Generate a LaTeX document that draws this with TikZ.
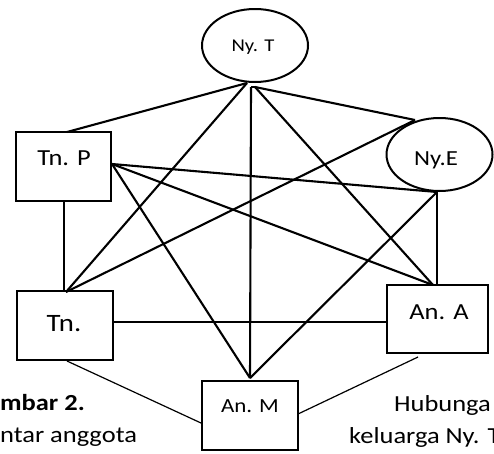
\documentclass[tikz,border=0pt]{standalone}
\usepackage{fontspec}
\setmainfont[FakeStretch=1.15]{Carlito}
\usetikzlibrary{shapes.geometric}
\begin{document}
\begin{tikzpicture}[x=1pt,y=-1pt,
  box/.style={draw=black,line width=2.3pt,rectangle,inner sep=0pt},
  oval/.style={draw=black,line width=2pt,ellipse,inner sep=0pt,minimum width=106pt,minimum height=73pt},
  lbl/.style={anchor=base,inner sep=0pt},
  thickline/.style={line width=2.1pt},
  thinline/.style={line width=1.2pt},
  midline/.style={line width=1.6pt}]
\useasboundingbox (0,0) rectangle (494,453);
\clip (0,0) rectangle (494,453);
\fill[white] (0,0) rectangle (494,453);
% shapes
\node[oval] (NyT) at (255,45.5) {};
\node[oval] (NyE) at (439.5,154.5) {};
\node[box,minimum width=95pt,minimum height=69pt] (TnP) at (63.5,166.5) {};
\node[box,minimum width=96pt,minimum height=69pt] (Tn) at (65,325.5) {};
\node[box,minimum width=101pt,minimum height=68pt] (AnA) at (437.5,319) {};
\node[box,minimum width=96pt,minimum height=69pt] (AnM) at (250,415.5) {};
% labels
\node[lbl,font=\fontsize{18}{22}\selectfont] (tNyT) at (253,51) {Ny. T};
\node[lbl,font=\fontsize{21.5}{26}\selectfont] (tNyE) at (436,165) {Ny.E};
\node[lbl,font=\fontsize{23}{28}\selectfont] (tTnP) at (64,165.7) {Tn. P};
\node[lbl,font=\fontsize{25}{30}\selectfont] (tTn) at (64,331) {Tn.};
\node[lbl,font=\fontsize{23}{28}\selectfont] (tAnA) at (439,319) {An. A};
\node[lbl,font=\fontsize{20}{24}\selectfont] (tAnM) at (250,412) {An. M};
% connection points
\coordinate (T1) at (247,83);
\coordinate (T2) at (251,87);
\coordinate (T3) at (255,87);
\coordinate (E1) at (415,120);
\coordinate (E2) at (437,192);
\coordinate (P1) at (67,132);
\coordinate (P2) at (112,164);
\coordinate (P3) at (64,201);
\coordinate (N1) at (66,292);
\coordinate (N2) at (64,292);
\coordinate (N3) at (113,322);
\coordinate (N4) at (67,361);
\coordinate (A1) at (433,285);
\coordinate (A2) at (437,285);
\coordinate (A3) at (387,322);
\coordinate (A4) at (418,357);
\coordinate (M1) at (250,378);
\coordinate (M2) at (201,423);
\coordinate (M3) at (298,414);
% thick connectors
\draw[thickline] (T1) -- (P1);
\draw[thickline] (T1) -- (N1);
\draw[thickline] (T2) -- (M1);
\draw[thickline] (T2) -- (T3);
\draw[thickline] (T3) -- (E1);
\draw[thickline] (T3) -- (A1);
\draw[thickline] (P2) -- (E2);
\draw[thickline] (P2) -- (A1);
\draw[thickline] (P2) -- (M1);
\draw[thickline] (E1) -- (N1);
\draw[thickline] (E2) -- (M1);
% thin connectors
\draw[thinline] (P3) -- (N2);
\draw[thinline] (E2) -- (A2);
\draw[midline] (N3) -- (A3);
\draw[thinline] (N4) -- (M2);
\draw[thinline] (A4) -- (M3);
% caption fragments
\node[anchor=base west,inner sep=0pt,font=\fontsize{23}{28}\selectfont\bfseries] (c1) at (0,410) {mbar 2.};
\node[anchor=base west,inner sep=0pt,font=\fontsize{23}{28}\selectfont] (c2) at (0,442) {ntar anggota};
\node[anchor=base west,inner sep=0pt,font=\fontsize{23}{28}\selectfont] (c3) at (394,411) {Hubunga};
\node[anchor=base west,inner sep=0pt,font=\fontsize{23}{28}\selectfont] (c4) at (349,443) {keluarga Ny. T};
\end{tikzpicture}
\end{document}
